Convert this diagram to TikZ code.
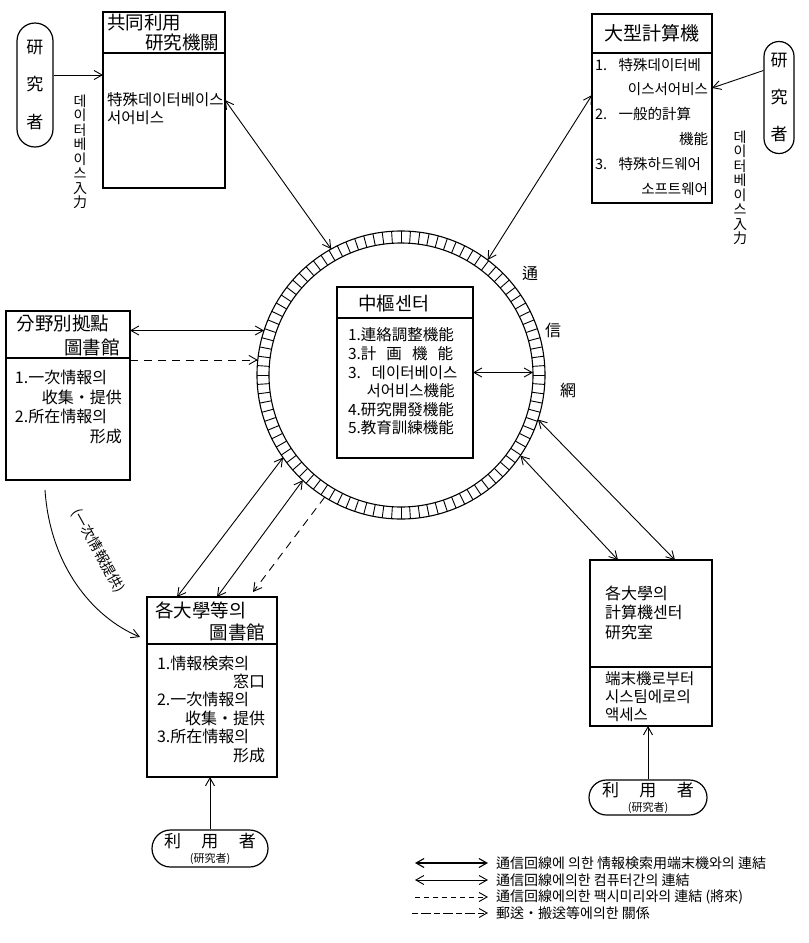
\documentclass[tikz,border=0pt]{standalone}
\usepackage{fontspec}
\setmainfont{Noto Sans CJK KR}
\usetikzlibrary{arrows.meta}

\begin{document}
\begin{tikzpicture}[x=1pt, y=-1pt,
    >={Straight Barb[length=8pt,width=9pt]},
    box/.style={draw, line width=1.2pt, inner sep=0pt, outer sep=0pt},
    sepline/.style={line width=1.2pt},
    txt/.style={inner sep=0pt, align=left},
    hdr/.style={txt, font=\fontsize{18.5}{22}\selectfont},
    body/.style={txt, font=\fontsize{15.5}{18.5}\selectfont},
    pill/.style={draw, line width=1.2pt, inner sep=0pt, align=center},
    vlabel/.style={inner sep=0pt, align=center, font=\fontsize{14}{14.5}\selectfont},
    ringlabel/.style={inner sep=0pt, font=\fontsize{16}{16}\selectfont},
    link/.style={<->, line width=0.9pt},
    dlink/.style={->, line width=0.9pt, dash pattern=on 8pt off 6pt},
    lgd/.style={inner sep=0pt, anchor=west, font=\fontsize{14}{14}\selectfont},
  ]
    % --- 定义参数 ---
    \def\Rout{144}   % 通信网 外半径
    \def\Rin{132}    % 通信网 内半径

    \useasboundingbox (0,0) rectangle (809,943);

    % --- 绘制通信网 (环) ---
    \coordinate (hub) at (401,375);
    \node[circle, draw, line width=1.1pt, minimum size=2*\Rout, inner sep=0pt, outer sep=0pt] (ring) at (hub) {};
    \node[circle, draw, line width=1.1pt, minimum size=2*\Rin, inner sep=0pt, outer sep=0pt] (ringin) at (hub) {};
    \begin{scope}[shift={(hub)}]
      \foreach \i in {1,...,96}
        \draw[line width=0.9pt] (\i*3.75:\Rin) -- (\i*3.75:\Rout);
    \end{scope}
    \node[ringlabel] (tong) at (530,273) {通};
    \node[ringlabel] (sin) at (553,330) {信};
    \node[ringlabel] (mang) at (568,390) {網};

    % --- 中樞센터 ---
    \node[box, minimum width=136, minimum height=171] (chusu) at (405,372.5) {};
    \draw[sepline] (chusu.north west) ++(0,31) -- ++(136,0);
    \node[hdr] (chusu-h) at (394,303) {中樞센터};
    \node[body, text width=117, font=\fontsize{15.5}{18.6}\selectfont] (chusu-b) at (406.5,381.5)
      {1.連絡調整機能\\3.計\hspace{0.65em}画\hspace{0.65em}機\hspace{0.65em}能\\3.\hspace{0.7em}데이터베이스\\\hspace*{1.2em}서어비스機能\\4.研究開發機能\\5.教育訓練機能};
    \draw[link] (chusu.east) -- (ringin.east |- chusu.east);

    % --- 共同利用 研究機關 (左上) ---
    \node[box, minimum width=122, minimum height=176] (kyodo) at (164,100) {};
    \draw[sepline] (kyodo.north west) ++(0,41) -- ++(122,0);
    \node[hdr, text width=112, font=\fontsize{18.5}{20}\selectfont] (kyodo-h) at (163,33) {共同利用\\\hspace*{\fill}研究機關};
    \node[body, text width=120, font=\fontsize{15.5}{18}\selectfont] (kyodo-b) at (167,109) {特殊데이터베이스\\서어비스};
    \draw[link] (kyodo.east) -- (ring.119);

    % 研究者 -> 데이터베이스入力
    \node[pill, rounded corners=18, minimum width=36, minimum height=124, font=\fontsize{17}{37.5}\selectfont] (kenkyu1) at (35,85) {研\\究\\者};
    \coordinate (k1out) at ([yshift=10]kenkyu1.east);
    \draw[->, line width=0.9pt] (k1out) -- (k1out -| kyodo.west);
    \node[vlabel] (db1) at (80,152) {데\\이\\터\\베\\이\\스\\入\\力};

    % --- 大型計算機 (右上) ---
    \node[box, minimum width=120, minimum height=189] (ogata) at (652,108.5) {};
    \draw[sepline] (ogata.north west) ++(0,39) -- ++(120,0);
    \node[hdr, font=\fontsize{19}{19}\selectfont] (ogata-h) at (652,33) {大型計算機};
    \node[body, text width=113, font=\fontsize{14.5}{24.8}\selectfont] (ogata-b) at (651.5,126.5)
      {1.\hspace{0.8em}特殊데이터베\\\hspace*{\fill}이스서어비스\\2.\hspace{0.8em}一般的計算\\\hspace*{\fill}機能\\3.\hspace{0.8em}特殊하드웨어\\\hspace*{\fill}소프트웨어};
    \draw[link] (ring.53) -- ([yshift=13.5]ogata.west);

    \node[pill, rounded corners=15, minimum width=30, minimum height=112, font=\fontsize{17}{37}\selectfont] (kenkyu2) at (779,97.5) {研\\究\\者};
    \coordinate (k2out) at ([yshift=27]kenkyu2.west);
    \draw[->, line width=0.9pt] (k2out) -- ([yshift=20.5]ogata.east);
    \node[vlabel] (db2) at (740,188) {데\\이\\터\\베\\이\\스\\入\\力};

    % --- 分野別拠點 圖書館 (左) ---
    \node[box, minimum width=124, minimum height=169] (bunya) at (68,395.5) {};
    \draw[sepline] (bunya.north west) ++(0,47) -- ++(124,0);
    \node[hdr, text width=103, font=\fontsize{18.5}{24}\selectfont] (bunya-h) at (68,335) {分野別拠點\\\hspace*{\fill}圖書館};
    \node[body, text width=107, font=\fontsize{16}{19.5}\selectfont] (bunya-b) at (68.5,407)
      {1.一次情報의\\\hspace*{\fill}收集・提供\\2.所在情報의\\\hspace*{\fill}形成};
    \draw[link] (bunya.east |- ring.162) -- (ring.162);
    \draw[dlink] (bunya.east |- ring.174) -- (ring.174);

    % --- 各大學等의 圖書館 (左下) ---
    \node[box, minimum width=130, minimum height=180] (toshokan) at (212,687) {};
    \draw[sepline] (toshokan.north west) ++(0,47) -- ++(130,0);
    \node[hdr, text width=110, font=\fontsize{18.5}{22}\selectfont] (toshokan-h) at (210,621) {各大學等의\\\hspace*{\fill}圖書館};
    \node[body, text width=108, font=\fontsize{16}{18.4}\selectfont] (toshokan-b) at (211,709)
      {1.情報検索의\\\hspace*{\fill}窓口\\2.一次情報의\\\hspace*{\fill}收集・提供\\3.所在情報의\\\hspace*{\fill}形成};
    \draw[link] (ring.215) -- ([xshift=30]toshokan.north west);
    \draw[link] (ring.227) -- ([xshift=70]toshokan.north west);
    \draw[dlink] (ring.238) -- ([xshift=106,yshift=5]toshokan.north west);

    % 分野別 -> 各大學 (一次情報提供)
    \draw[->, line width=0.9pt] ([xshift=39,yshift=-10]bunya.south west)
      .. controls (50,565) and (92,617) .. ([xshift=-7,yshift=-40]toshokan.north west);
    \node[rotate=-61, inner sep=0pt, font=\fontsize{14}{14}\selectfont] (teikyo) at (98,551) {(一次情報提供)};

    \node[pill, rounded corners=18.5, minimum width=116, minimum height=37, font=\fontsize{17}{17}\selectfont] (riyosha1) at (210,848.5)
      {利\hspace{1.2em}用\hspace{1.2em}者\\[-2pt]{\fontsize{11}{11}\selectfont(研究者)}};
    \draw[->, line width=0.9pt] (riyosha1.north) -- (riyosha1.north |- toshokan.south);

    % --- 各大學의 計算機센터 (右下) ---
    \node[box, minimum width=122, minimum height=166] (keisan) at (651,643) {};
    \draw[sepline] (keisan.north west) ++(0,107) -- ++(122,0);
    \node[body, anchor=west, font=\fontsize{16}{19.5}\selectfont] (keisan-a) at (605,612.7) {各大學의\\計算機센터\\研究室};
    \node[body, anchor=west, font=\fontsize{15.5}{18}\selectfont] (keisan-b) at (605,697) {端末機로부터\\시스팀에로의\\액세스};
    \draw[link] (ring.342) -- ([xshift=85]keisan.north west);
    \draw[link] (ring.326) -- ([xshift=28]keisan.north west);

    \node[pill, rounded corners=17.5, minimum width=118, minimum height=35, font=\fontsize{17}{17}\selectfont] (riyosha2) at (648,797.5)
      {利\hspace{1.2em}用\hspace{1.2em}者\\[-2pt]{\fontsize{11}{11}\selectfont(研究者)}};
    \draw[->, line width=0.9pt] (riyosha2.north) -- (riyosha2.north |- keisan.south);

    % --- 图例 ---
    \node[lgd] (lg1) at (496,863) {通信回線에 의한 情報検索用端末機와의 連結};
    \node[lgd] (lg2) at (496,880) {通信回線에의한 컴퓨터간의 連結};
    \node[lgd] (lg3) at (496,897) {通信回線에의한 팩시미리와의 連結 (將來)};
    \node[lgd] (lg4) at (496,913) {郵送・搬送等에의한 關係};
    \coordinate (lg1-s) at (415,863);
    \coordinate (lg2-s) at (415,880);
    \coordinate (lg3-s) at (415,897);
    \coordinate (lg4-s) at (412,913);
    \draw[link, line width=1.1pt] (lg1-s) -- ([xshift=-8]lg1.west);
    \draw[link] (lg2-s) -- ([xshift=-8]lg2.west);
    \draw[->, line width=0.9pt, dash pattern=on 5pt off 4pt] (lg3-s) -- ([xshift=-8]lg3.west);
    \draw[->, line width=0.9pt, dash pattern=on 6pt off 3pt on 10pt off 3pt] (lg4-s) -- ([xshift=-8]lg4.west);

\end{tikzpicture}
\end{document}
